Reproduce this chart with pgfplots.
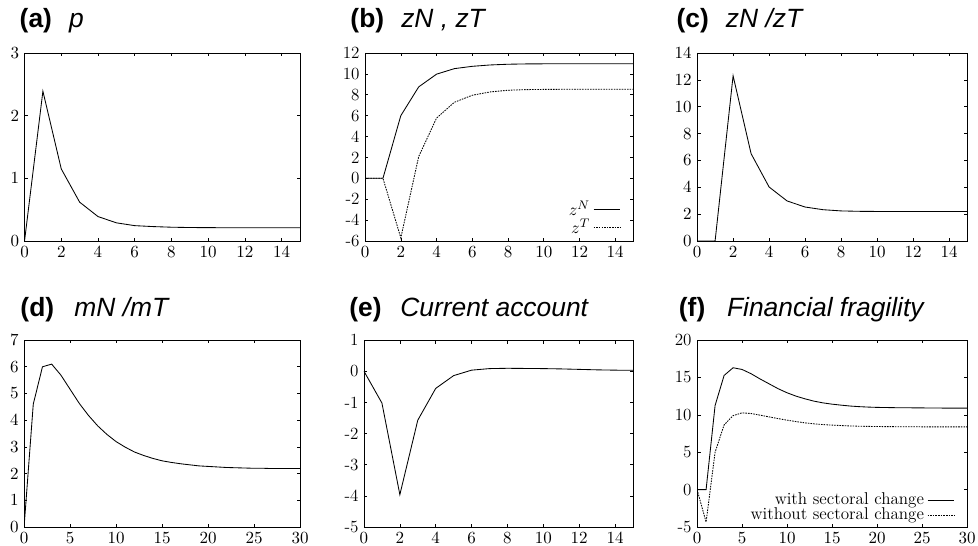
\documentclass[border=0pt]{standalone}
\usepackage{pgfplots}
\pgfplotsset{compat=1.18}
\usepackage{fontspec}
\newfontfamily\titlefont{Liberation Sans}
\newcommand{\ttl}[3]{{\titlefont\fontsize{17}{19}\selectfont\textbf{(#1)}\hspace{#3}\textit{#2}}}
\pgfplotsset{
  every axis/.append style={
    scale only axis,
    tick align=inside,
    major tick length=2.2pt,
    tick style={black, line width=0.4pt},
    axis line style={line width=0.55pt},
    ticklabel style={font=\fontsize{11}{13}\selectfont},
    clip=true,
  },
  legend image code/.code={\draw[#1] (0cm,0cm) -- (0.6cm,0cm);},
}
\tikzset{
  sol/.style={black, line width=0.55pt},
  dot/.style={black, line width=0.55pt, dash pattern=on 1pt off 0.7pt},
}
\begin{document}
\begin{tikzpicture}
\useasboundingbox (0,0) rectangle (629.8pt,351pt);
% titles
\node[anchor=base west, inner sep=0pt] at (12.5pt,333pt) {\ttl{a}{p}{11pt}};
\node[anchor=base west, inner sep=0pt] at (225.5pt,333pt) {\ttl{b}{zN , zT}{11pt}};
\node[anchor=base west, inner sep=0pt] at (435.5pt,333pt) {\ttl{c}{zN /zT}{11pt}};
\node[anchor=base west, inner sep=0pt] at (13pt,147pt) {\ttl{d}{mN /mT}{13pt}};
\node[anchor=base west, inner sep=0pt] at (224.8pt,147pt) {\ttl{e}{Current account}{12pt}};
\node[anchor=base west, inner sep=0pt] at (437pt,147pt) {\ttl{f}{Financial fragility}{14pt}};

% (a)
\begin{axis}[at={(15.8pt,195.8pt)}, anchor=south west, width=177.4pt, height=121.1pt,
  xmin=0, xmax=15, ymin=0, ymax=3, xtick={0,2,...,14}, ytick={0,1,2,3}]
\addplot[sol] coordinates {(0,0) (1,2.39) (2,1.15) (3,0.62) (4,0.39) (5,0.29) (6,0.245) (7,0.23) (8,0.22) (9,0.215) (10,0.213) (11,0.212) (12,0.212) (13,0.212) (14,0.212) (15,0.212)};
\end{axis}

% (b)
\begin{axis}[at={(235.1pt,195.8pt)}, anchor=south west, width=172.6pt, height=121.1pt,
  xmin=0, xmax=15, ymin=-6, ymax=12, xtick={0,2,...,14}, ytick={-6,-4,...,12},
  yticklabels={-6,-4,-2,0,2,4,6,8,10,12},
  legend style={draw=none, fill=none, at={(0.96,0.0)}, anchor=south east, font=\fontsize{11}{13}\selectfont, row sep=-3.5pt, inner sep=1pt},
  legend cell align=right, legend plot pos=right]
\addplot[sol] coordinates {(0,0) (1,0) (2,6.0) (3,8.75) (4,9.97) (5,10.5) (6,10.72) (7,10.85) (8,10.92) (9,10.95) (10,10.96) (11,10.97) (12,10.97) (13,10.97) (14,10.97) (15,10.97)};
\addlegendentry{$z^N$}
\addplot[dot] coordinates {(0,0) (1,0) (2,-5.7) (3,2.08) (4,5.77) (5,7.28) (6,7.95) (7,8.27) (8,8.43) (9,8.49) (10,8.51) (11,8.52) (12,8.52) (13,8.52) (14,8.52) (15,8.52)};
\addlegendentry{$z^T$}
\end{axis}

% (c)
\begin{axis}[at={(448.9pt,195.8pt)}, anchor=south west, width=173.9pt, height=121.1pt,
  xmin=0, xmax=15, ymin=0, ymax=14, xtick={0,2,...,14}, ytick={0,2,...,14}]
\addplot[sol] coordinates {(0,0) (1,0) (2,12.3) (3,6.5) (4,4.02) (5,2.98) (6,2.53) (7,2.33) (8,2.24) (9,2.21) (10,2.2) (11,2.2) (12,2.2) (13,2.2) (14,2.2) (15,2.2)};
\end{axis}

% (d)
\begin{axis}[at={(15.5pt,11.6pt)}, anchor=south west, width=177.7pt, height=120.4pt,
  xmin=0, xmax=30, ymin=0, ymax=7, xtick={0,5,...,30}, ytick={0,1,...,7}]
\addplot[sol] coordinates {(0,0) (1,4.6) (2,6.0) (3,6.1) (4,5.69) (5,5.16) (6,4.63) (7,4.18) (8,3.79) (9,3.47) (10,3.2) (11,2.99) (12,2.81) (13,2.68) (14,2.57) (15,2.48) (16,2.42) (17,2.37) (18,2.33) (19,2.29) (20,2.27) (21,2.25) (22,2.23) (23,2.22) (24,2.21) (25,2.2) (26,2.2) (27,2.19) (28,2.19) (29,2.19) (30,2.19)};
\end{axis}

% (e)
\begin{axis}[at={(234.4pt,11.6pt)}, anchor=south west, width=173.2pt, height=120.4pt,
  xmin=0, xmax=15, ymin=-5, ymax=1, xtick={0,2,...,14}, ytick={-5,-4,...,1},
  yticklabels={-5,-4,-3,-2,-1,0,1}]
\addplot[sol] coordinates {(0,0) (1,-1.02) (2,-3.96) (3,-1.57) (4,-0.55) (5,-0.14) (6,0.035) (7,0.085) (8,0.095) (9,0.09) (10,0.085) (11,0.075) (12,0.06) (13,0.045) (14,0.035) (15,0.03)};
\end{axis}

% (f)
\begin{axis}[at={(448.9pt,11.6pt)}, anchor=south west, width=173.9pt, height=120.4pt,
  xmin=0, xmax=30, ymin=-5, ymax=20, xtick={0,5,...,30}, ytick={-5,0,...,20},
  yticklabels={-5,0,5,10,15,20},
  legend style={draw=none, fill=none, at={(0.96,0.0)}, anchor=south east, font=\fontsize{11}{13}\selectfont, row sep=-3.5pt, inner sep=1pt},
  legend cell align=right, legend plot pos=right]
\addplot[sol] coordinates {(0,0) (1,0) (2,11.25) (3,15.27) (4,16.3) (5,16.07) (6,15.5) (7,14.8) (8,14.15) (9,13.5) (10,12.95) (11,12.5) (12,12.14) (13,11.83) (14,11.6) (15,11.43) (16,11.3) (17,11.18) (18,11.1) (19,11.04) (20,11.0) (21,10.98) (22,10.96) (23,10.95) (24,10.94) (25,10.93) (26,10.92) (27,10.91) (28,10.9) (29,10.9) (30,10.9)};
\addlegendentry{with sectoral change}
\addplot[dot] coordinates {(0,0) (1,-4.33) (2,5.0) (3,8.66) (4,9.9) (5,10.27) (6,10.18) (7,9.96) (8,9.73) (9,9.5) (10,9.29) (11,9.1) (12,8.93) (13,8.8) (14,8.7) (15,8.63) (16,8.57) (17,8.52) (18,8.48) (19,8.46) (20,8.44) (21,8.43) (22,8.42) (23,8.41) (24,8.41) (25,8.4) (26,8.4) (27,8.4) (28,8.4) (29,8.4) (30,8.4)};
\addlegendentry{without sectoral change}
\end{axis}
\end{tikzpicture}
\end{document}
